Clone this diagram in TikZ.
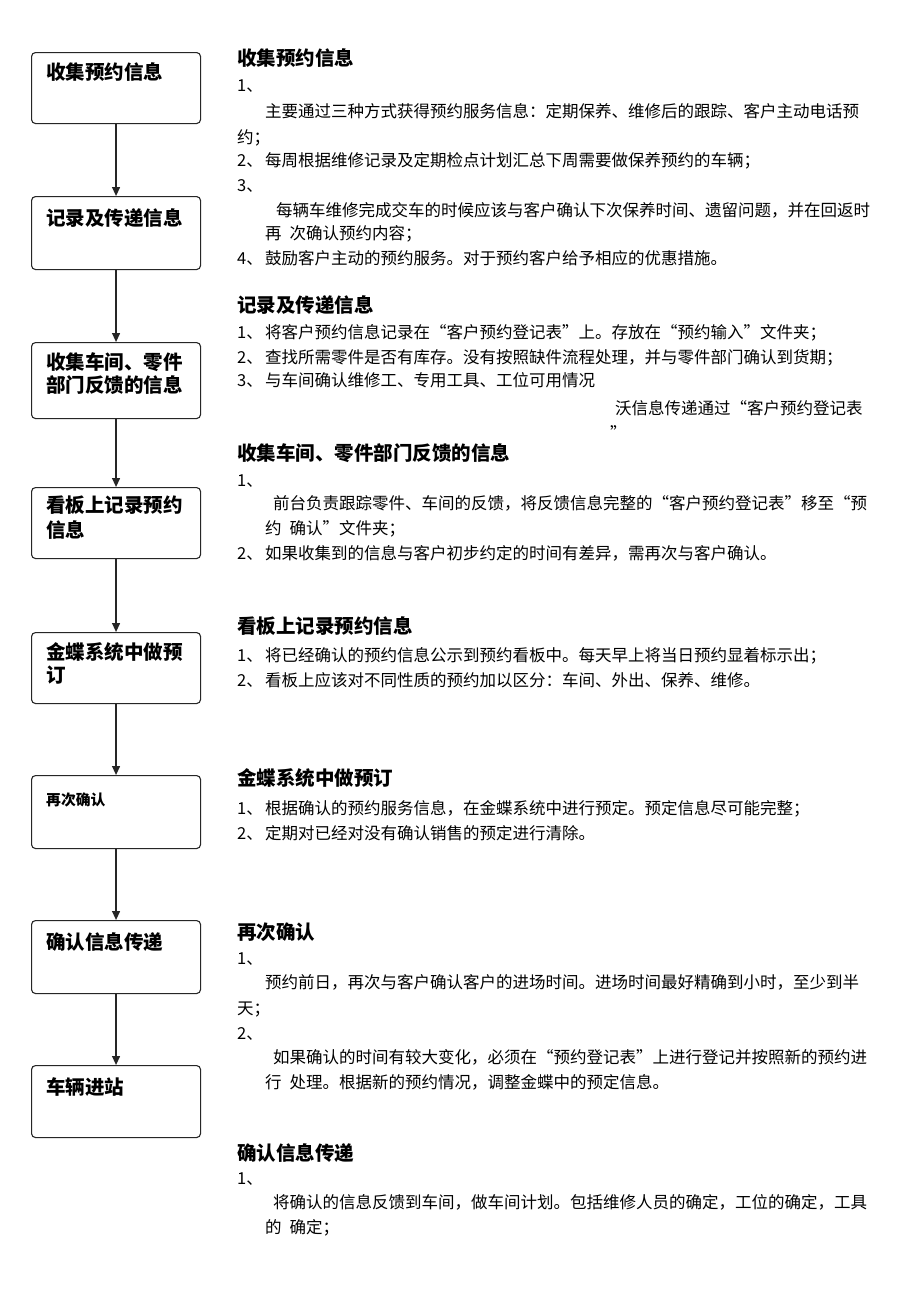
\documentclass[tikz,border=0pt]{standalone}
\usepackage{fontspec}
\setmainfont{Noto Sans CJK SC}
\usetikzlibrary{arrows.meta}
\newcommand{\numi}[1]{\makebox[28pt][l]{#1、}}
\begin{document}
\begin{tikzpicture}[x=1pt,y=-1pt,
  box/.style={draw=black!85, line width=1.1pt, rounded corners=4pt, minimum width=169pt, anchor=north west, inner sep=0pt},
  bt/.style={anchor=west, inner sep=0pt, font=\fontsize{19.5}{23}\selectfont\bfseries, text height=14.8pt, text depth=0pt},
  bts/.style={anchor=west, inner sep=0pt, font=\fontsize{14.8}{18}\selectfont\bfseries, text height=11.2pt, text depth=0pt},
  h/.style={anchor=west, inner sep=0pt, font=\fontsize{19.5}{23}\selectfont\bfseries, text height=14.8pt, text depth=0pt},
  t/.style={anchor=west, inner sep=0pt, font=\fontsize{16.5}{20}\selectfont, text height=12.5pt, text depth=0pt},
  arr/.style={line width=1.2pt, draw=black!85, -{Triangle[length=9pt,width=8pt]}}
]
\useasboundingbox[fill=white] (0,0) rectangle (920,1302);
% flow boxes
\node[box, minimum height=71pt] (b1) at (31,52) {};
\node[box, minimum height=73pt] (b2) at (31,196) {};
\node[box, minimum height=76pt] (b3) at (31,342) {};
\node[box, minimum height=71pt] (b4) at (31,487) {};
\node[box, minimum height=71pt] (b5) at (31,632) {};
\node[box, minimum height=73pt] (b6) at (31,775) {};
\node[box, minimum height=73pt] (b7) at (31,920) {};
\node[box, minimum height=72pt] (b8) at (31,1065) {};
% box labels
\node[bt] (b1t) at (46,72) {收集预约信息};
\node[bt] (b2t) at (46,218) {记录及传递信息};
\node[bt] (b3t) at (46,362) {收集车间、零件};
\node[bt] (b3u) at (46,385) {部门反馈的信息};
\node[bt] (b4t) at (46,505) {看板上记录预约};
\node[bt] (b4u) at (46,530) {信息};
\node[bt] (b5t) at (46,652) {金蝶系统中做预};
\node[bt] (b5u) at (46,675) {订};
\node[bts] (b6t) at (46,800) {再次确认};
\node[bt] (b7t) at (46,942) {确认信息传递};
\node[bt] (b8t) at (46,1087) {车辆进站};
% arrows
\draw[arr] (b1.south) -- (b2.north);
\draw[arr] (b2.south) -- (b3.north);
\draw[arr] (b3.south) -- (b4.north);
\draw[arr] (b4.south) -- (b5.north);
\draw[arr] (b5.south) -- (b6.north);
\draw[arr] (b6.south) -- (b7.north);
\draw[arr] (b7.south) -- (b8.north);
% right column
\node[h] (h1) at (237,58) {收集预约信息};
\node[t] (p1) at (237,85) {1、};
\node[t] (p2) at (265,111) {主要通过三种方式获得预约服务信息：定期保养、维修后的跟踪、客户主动电话预};
\node[t] (p3) at (237,137) {约；};
\node[t] (p4) at (237,160) {\numi{2}每周根据维修记录及定期检点计划汇总下周需要做保养预约的车辆；};
\node[t] (p5) at (237,185) {3、};
\node[t] (p6) at (276,210) {每辆车维修完成交车的时候应该与客户确认下次保养时间、遗留问题，并在回返时};
\node[t] (p7) at (265,233) {再\hspace{8pt}次确认预约内容；};
\node[t] (p8) at (237,258) {\numi{4}鼓励客户主动的预约服务。对于预约客户给予相应的优惠措施。};

\node[h] (h2) at (237,305) {记录及传递信息};
\node[t] (q1) at (237,332) {\numi{1}将客户预约信息记录在“客户预约登记表”上。存放在“预约输入”文件夹；};
\node[t] (q2) at (237,357) {\numi{2}查找所需零件是否有库存。没有按照缺件流程处理，并与零件部门确认到货期；};
\node[t] (q3) at (237,380) {\numi{3}与车间确认维修工、专用工具、工位可用情况};
\node[t] (q4) at (615,408) {沃信息传递通过“客户预约登记表};
\node[t] (q5) at (610,433) {”};

\node[h] (h3) at (237,453) {收集车间、零件部门反馈的信息};
\node[t] (r1) at (237,480) {1、};
\node[t] (r2) at (273,503) {前台负责跟踪零件、车间的反馈，将反馈信息完整的“客户预约登记表”移至“预};
\node[t] (r3) at (265,528) {约\hspace{8pt}确认”文件夹；};
\node[t] (r4) at (237,553) {\numi{2}如果收集到的信息与客户初步约定的时间有差异，需再次与客户确认。};

\node[h] (h4) at (237,626) {看板上记录预约信息};
\node[t] (s1) at (237,655) {\numi{1}将已经确认的预约信息公示到预约看板中。每天早上将当日预约显着标示出；};
\node[t] (s2) at (237,680) {\numi{2}看板上应该对不同性质的预约加以区分：车间、外出、保养、维修。};

\node[h] (h5) at (237,778) {金蝶系统中做预订};
\node[t] (u1) at (237,808) {\numi{1}根据确认的预约服务信息，在金蝶系统中进行预定。预定信息尽可能完整；};
\node[t] (u2) at (237,833) {\numi{2}定期对已经对没有确认销售的预定进行清除。};

\node[h] (h6) at (237,932) {再次确认};
\node[t] (v1) at (237,958) {1、};
\node[t] (v2) at (265,982) {预约前日，再次与客户确认客户的进场时间。进场时间最好精确到小时，至少到半};
\node[t] (v3) at (237,1008) {天；};
\node[t] (v4) at (237,1033) {2、};
\node[t] (v5) at (273,1057) {如果确认的时间有较大变化，必须在“预约登记表”上进行登记并按照新的预约进};
\node[t] (v6) at (265,1082) {行\hspace{8pt}处理。根据新的预约情况，调整金蝶中的预定信息。};

\node[h] (h7) at (237,1153) {确认信息传递};
\node[t] (w1) at (237,1178) {1、};
\node[t] (w2) at (273,1202) {将确认的信息反馈到车间，做车间计划。包括维修人员的确定，工位的确定，工具};
\node[t] (w3) at (265,1227) {的\hspace{8pt}确定；};
\end{tikzpicture}
\end{document}
